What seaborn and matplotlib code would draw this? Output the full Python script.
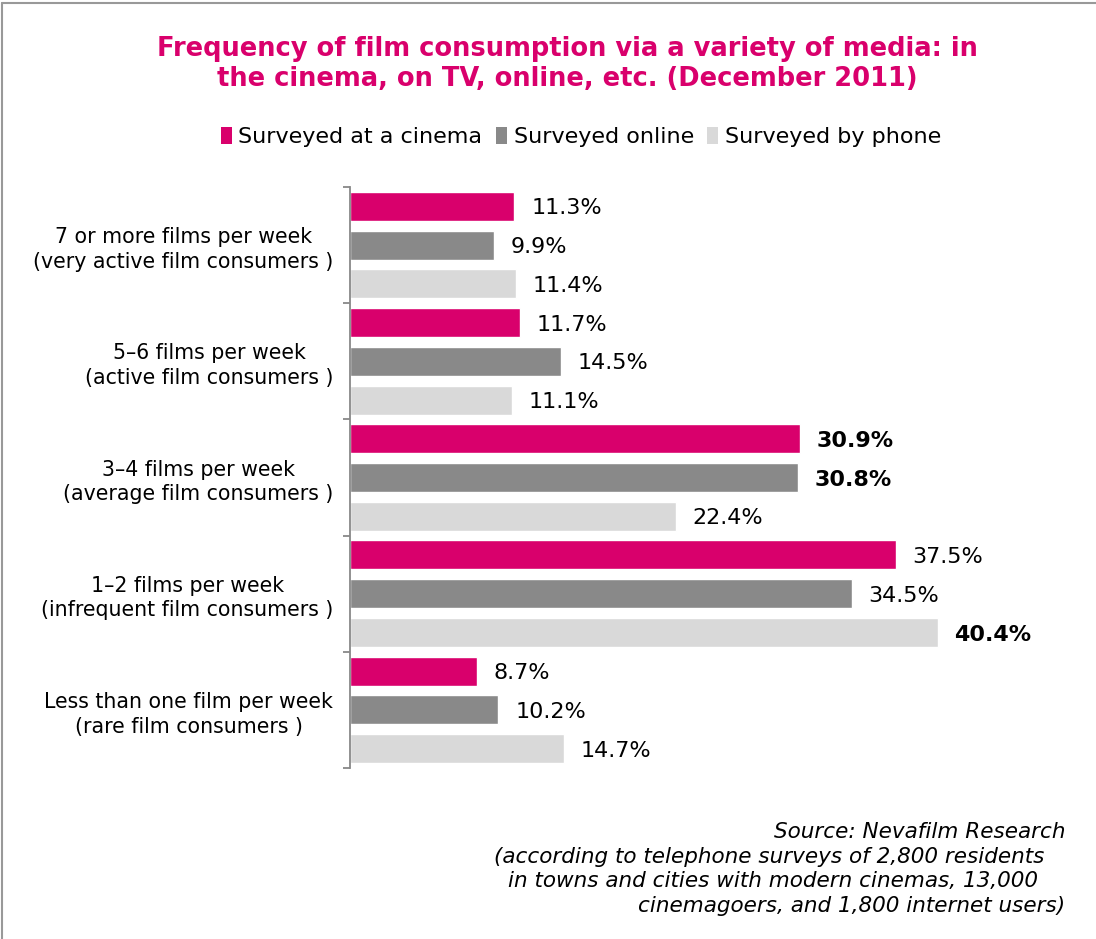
import matplotlib
matplotlib.use("Agg")
import matplotlib.pyplot as plt
import seaborn as sns
import pandas as pd
from matplotlib.lines import Line2D
from matplotlib.patches import Patch

categories = [
    "7 or more films per week\n(very active film consumers )",
    "5\u20136 films per week\n(active film consumers )",
    "3\u20134 films per week\n(average film consumers )",
    "1\u20132 films per week\n(infrequent film consumers )",
    "Less than one film per week\n(rare film consumers )",
]
series = ["Surveyed at a cinema", "Surveyed online", "Surveyed by phone"]
cinema = [11.3, 11.7, 30.9, 37.5, 8.7]
online = [9.9, 14.5, 30.8, 34.5, 10.2]
phone = [11.4, 11.1, 22.4, 40.4, 14.7]
colors = ["#D9006C", "#898989", "#D9D9D9"]

rows = []
for s, vals in zip(series, [cinema, online, phone]):
    for c, v in zip(categories, vals):
        rows.append({"category": c, "series": s, "value": v})
df = pd.DataFrame(rows)

sns.set_style("white")
plt.rcParams["font.family"] = ["DejaVu Sans"]

fig = plt.figure(figsize=(10.96, 9.39), dpi=100)
ax = fig.add_axes([350 / 1096, 1 - 768 / 939, 700 / 1096, (768 - 187) / 939])

sns.barplot(data=df, y="category", x="value", hue="series", order=categories,
            hue_order=series, palette=colors, orient="h", width=1.0, gap=0.25,
            ax=ax, legend=False, saturation=1)

ax.set_xlim(0, 700 / 14.55)
ax.set_ylim(len(categories) - 0.5, -0.5)
ax.set_xlabel("")
ax.set_ylabel("")
ax.set_xticks([])
for sp in ["top", "right", "bottom"]:
    ax.spines[sp].set_visible(False)
ax.spines["left"].set_color("#888888")
ax.spines["left"].set_linewidth(1.3)

ax.set_yticks(range(len(categories)))
ax.set_yticklabels(categories, fontsize=14.8, multialignment="center", color="black",
                   linespacing=1.3)
ax.tick_params(axis="y", which="major", left=True, length=0, pad=12)
ax.set_yticks([i - 0.5 for i in range(len(categories) + 1)], minor=True)
ax.tick_params(axis="y", which="minor", left=True, length=5, width=1.3,
               color="#888888", direction="out")

# value labels
for si, (s, vals) in enumerate(zip(series, [cinema, online, phone])):
    container = ax.containers[si]
    for ci, (bar, v) in enumerate(zip(container, vals)):
        best = max(cinema[ci], online[ci], phone[ci])
        bold = (v == best) and ci in (2, 3)
        if ci == 2 and si == 1:
            bold = True
        ax.annotate(f"{v:.1f}%", xy=(bar.get_width(), bar.get_y() + bar.get_height() / 2),
                    xytext=(12, -1.5), textcoords="offset points", va="center", ha="left",
                    fontsize=16, fontweight="bold" if bold else "normal", color="black")

fig.text(0.518, 1 - 64 / 939, "Frequency of film consumption via a variety of media: in\nthe cinema, on TV, online, etc. (December 2011)",
         ha="center", va="center", fontsize=18.5, fontweight="bold", color="#D9006C",
         linespacing=1.25)

handles = [Patch(facecolor=c, edgecolor="none") for c in colors]
fig.legend(handles, series, loc="center", bbox_to_anchor=(0.53, 1 - 137 / 939), ncol=3,
           frameon=False, fontsize=16, handlelength=0.5, handleheight=0.8,
           handletextpad=0.3, columnspacing=0.6, labelcolor="black")

fig.text(1065 / 1096, 1 - 869 / 939,
         "Source: Nevafilm Research\n(according to telephone surveys of 2,800 residents   \nin towns and cities with modern cinemas, 13,000    \ncinemagoers, and 1,800 internet users)",
         ha="right", va="center", multialignment="right", fontsize=15.5, style="italic",
         linespacing=1.3, color="black")

# border (top and left)
fig.add_artist(Line2D([2 / 1096, 2 / 1096], [0, 1 - 3 / 939], transform=fig.transFigure, color="#999999", lw=1.5))
fig.add_artist(Line2D([2 / 1096, 1], [1 - 3 / 939, 1 - 3 / 939], transform=fig.transFigure, color="#999999", lw=1.5))

fig.savefig("out.png", dpi=100)
